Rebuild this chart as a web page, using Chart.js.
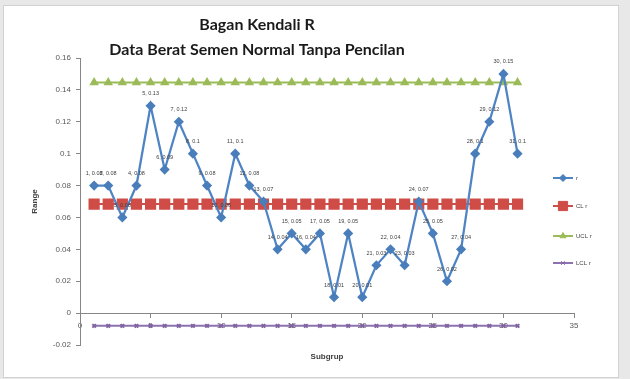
<!DOCTYPE html>
<html><head><meta charset="utf-8">
<script src="https://cdn.jsdelivr.net/npm/chart.js@4"></script>
<style>
html,body{margin:0;padding:0;background:#e8e8e8;width:630px;height:379px;overflow:hidden}
#box{position:absolute;left:3px;top:5px;width:614px;height:371px;background:#fff;border:1px solid #d2d2d2}
#wrap{position:absolute;left:0;top:0;width:630px;height:379px}
</style></head><body>
<div id="box"></div>
<div id="wrap"><canvas id="c" width="630" height="379"></canvas></div>
<script>
const titleLines = ['Bagan Kendali R', 'Data Berat Semen Normal Tanpa Pencilan'];
const xTitle = 'Subgrup';
const yTitle = 'Range';
const seriesNames = ['r', 'CL r', 'UCL r', 'LCL r'];
const subgroups = [1,2,3,4,5,6,7,8,9,10,11,12,13,14,15,16,17,18,19,20,21,22,23,24,25,26,27,28,29,30,31];
const rValues = [0.08,0.08,0.06,0.08,0.13,0.09,0.12,0.1,0.08,0.06,0.1,0.08,0.07,0.04,0.05,0.04,0.05,0.01,0.05,0.01,0.03,0.04,0.03,0.07,0.05,0.02,0.04,0.1,0.12,0.15,0.1];
const clValue = 0.0684;
const uclValue = 0.1446;
const lclValue = -0.008;
const xTicks = [0,5,10,15,20,25,30,35];
const yTicks = [-0.02,0,0.02,0.04,0.06,0.08,0.1,0.12,0.14,0.16];

const pts = vals => subgroups.map((x, i) => ({x, y: vals[i]}));
const constPts = v => subgroups.map(x => ({x, y: v}));

const titlePlugin = {
  id: 'customTitle',
  afterDraw(chart) {
    const ctx = chart.ctx;
    ctx.save();
    ctx.fillStyle = '#1a1a1a';
    ctx.font = 'bold 16px Lato';
    ctx.textAlign = 'center';
    ctx.textBaseline = 'middle';
    ctx.fillText(titleLines[0], 257, 25);
    ctx.fillText(titleLines[1], 257, 50);
    ctx.restore();
  }
};

const labelPlugin = {
  id: 'pointLabels',
  afterDatasetsDraw(chart) {
    const ctx = chart.ctx;
    const meta = chart.getDatasetMeta(0);
    ctx.save();
    ctx.fillStyle = '#404040';
    ctx.font = '5.5px "Liberation Sans"';
    ctx.textAlign = 'center';
    ctx.textBaseline = 'middle';
    meta.data.forEach((p, i) => {
      ctx.fillText(subgroups[i] + ', ' + rValues[i], p.x, p.y - 12);
    });
    ctx.restore();
  }
};

const legendPlugin = {
  id: 'sideLegend',
  afterDraw(chart) {
    const ctx = chart.ctx;
    const ys = [178, 206, 236, 263];
    ctx.save();
    chart.data.datasets.forEach((ds, i) => {
      const y = ys[i];
      ctx.strokeStyle = ds.borderColor;
      ctx.lineWidth = 2;
      ctx.beginPath(); ctx.moveTo(553, y); ctx.lineTo(573, y); ctx.stroke();
      ctx.fillStyle = ds.pointBackgroundColor;
      ctx.strokeStyle = ds.pointBorderColor;
      ctx.lineWidth = 1;
      Chart.helpers.drawPoint(ctx, {pointStyle: ds.pointStyle, radius: ds.pointRadius, rotation: 0, borderWidth: 1}, 563, y);
      ctx.fillStyle = '#404040';
      ctx.font = '6px "Liberation Sans"';
      ctx.textAlign = 'left';
      ctx.textBaseline = 'middle';
      ctx.fillText(ds.label, 576, y);
    });
    ctx.restore();
  }
};

new Chart(document.getElementById('c'), {
  type: 'line',
  data: {
    datasets: [
      {label: seriesNames[0], data: pts(rValues), borderColor: '#4f84c4', borderWidth: 2.25,
       pointStyle: 'rectRot', pointRadius: 3.5, pointBackgroundColor: '#4a7ebb', pointBorderColor: '#4a7ebb'},
      {label: seriesNames[1], data: constPts(clValue), borderColor: '#c9504b', borderWidth: 2,
       pointStyle: 'rect', pointRadius: 6.5, pointBackgroundColor: '#cf4c47', pointBorderColor: '#cf4c47'},
      {label: seriesNames[2], data: constPts(uclValue), borderColor: '#9bbb59', borderWidth: 2,
       pointStyle: 'triangle', pointRadius: 3.5, pointBackgroundColor: '#9bbb59', pointBorderColor: '#9bbb59'},
      {label: seriesNames[3], data: constPts(lclValue), borderColor: '#8c72b0', borderWidth: 2,
       pointStyle: 'crossRot', pointRadius: 2.5, pointBackgroundColor: '#8064a2', pointBorderColor: '#8064a2'}
    ]
  },
  options: {
    responsive: false,
    devicePixelRatio: 1,
    animation: false,
    layout: {padding: {left: 0, right: 56, top: 58, bottom: 34}},
    plugins: {legend: {display: false}, title: {display: false}, tooltip: {enabled: false}},
    scales: {
      x: {
        type: 'linear', min: 0, max: 35, position: {y: 0},
        afterBuildTicks: s => { s.ticks = xTicks.map(v => ({value: v})); },
        grid: {display: true, drawOnChartArea: false, drawTicks: true, tickLength: 4, color: '#868686'},
        border: {display: true, color: '#868686', width: 1},
        ticks: {font: {size: 8, family: 'Liberation Sans'}, color: '#595959', padding: 4, maxRotation: 0, autoSkip: false},
        title: {display: true, text: xTitle, font: {size: 8, weight: 'bold', family: 'Liberation Sans'}, color: '#404040', padding: {top: 17, bottom: 0}}
      },
      y: {
        type: 'linear', min: -0.02, max: 0.16,
        afterBuildTicks: s => { s.ticks = yTicks.map(v => ({value: v})); },
        afterFit: s => { s.width = 80; },
        grid: {display: true, drawOnChartArea: false, drawTicks: true, tickLength: 4, color: '#868686'},
        border: {display: true, color: '#868686', width: 1},
        ticks: {font: {size: 8, family: 'Liberation Sans'}, color: '#595959', padding: 5,
                callback: v => String(+v.toFixed(2))},
        title: {display: true, text: yTitle, font: {size: 8, weight: 'bold', family: 'Liberation Sans'}, color: '#404040', padding: {top: 30, bottom: 0}}
      }
    }
  },
  plugins: [titlePlugin, labelPlugin, legendPlugin]
});
</script>
</body></html>
